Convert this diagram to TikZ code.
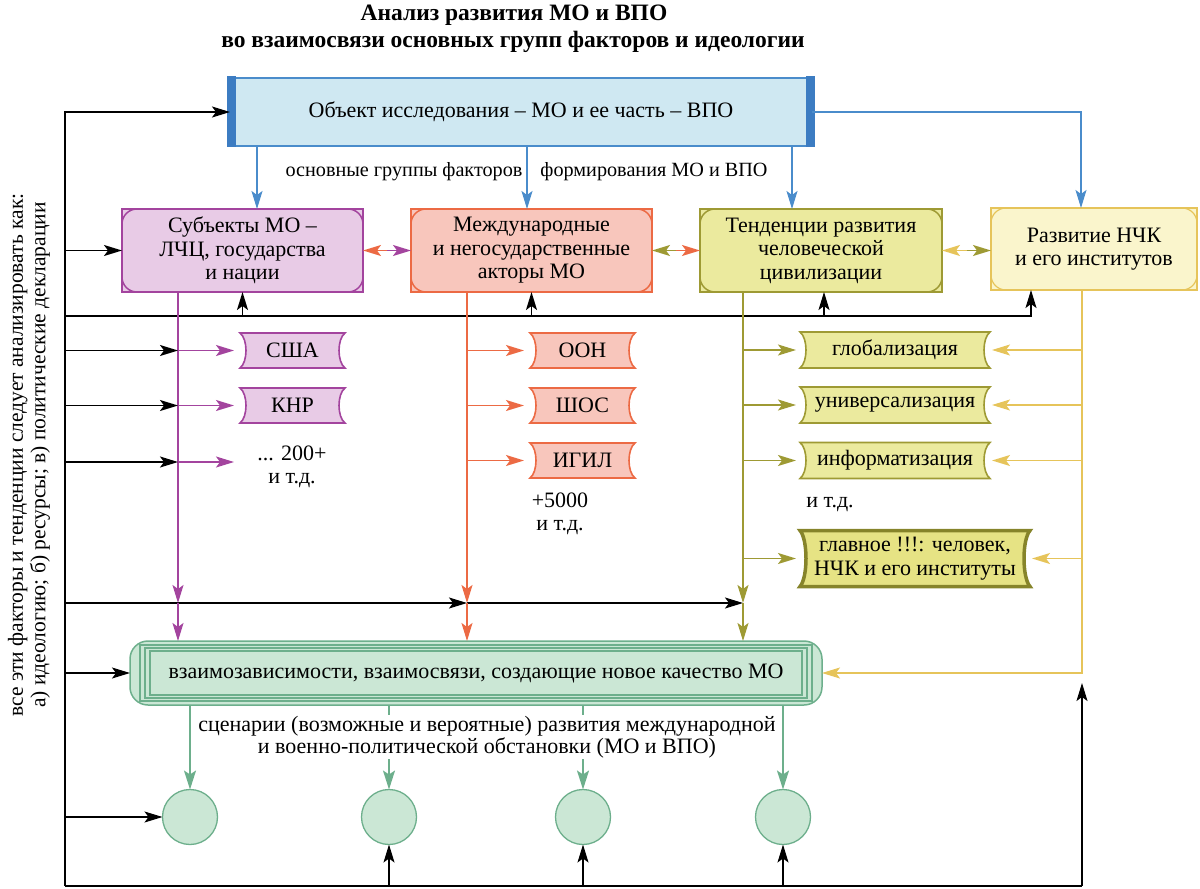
\documentclass[tikz,border=0pt]{standalone}
\usepackage{fontspec}
\setmainfont{Liberation Serif}
\usetikzlibrary{arrows.meta,calc}
\pgfdeclarelayer{background}
\pgfsetlayers{background,main}
\definecolor{blueF}{HTML}{CFE8F2}
\definecolor{blueD}{HTML}{4A8CCB}
\definecolor{blueBar}{HTML}{3C7CC2}
\definecolor{purF}{HTML}{E8CBE6}
\definecolor{purD}{HTML}{A3449E}
\definecolor{oraF}{HTML}{F8C6BC}
\definecolor{oraD}{HTML}{EC6A44}
\definecolor{oliF}{HTML}{EBEA9E}
\definecolor{oliD}{HTML}{9E9A34}
\definecolor{oliG}{HTML}{E6E384}
\definecolor{oliB}{HTML}{86842A}
\definecolor{golF}{HTML}{FAF5CC}
\definecolor{golD}{HTML}{E6C45A}
\definecolor{grnF}{HTML}{CBE7D5}
\definecolor{grnD}{HTML}{6DAF8C}
\newcommand\tf{\fontsize{22}{23.5}\selectfont}
\newcommand\mytkt[8]{% name, x, y, w, h, fill, draw, text
  \node[txt, minimum width=#4pt, minimum height=#5pt] (#1) at (#2,#3) {#8};
  \begin{pgfonlayer}{background}
  \filldraw[fill=#6, draw=#7, line width=1.6pt]
    (#1.north west) -- (#1.north east) .. controls +(-8,6) and +(-8,-6) .. (#1.south east)
    -- (#1.south west) .. controls +(8,-6) and +(8,6) .. (#1.north west) -- cycle;
  \end{pgfonlayer}}
\begin{document}
\begin{tikzpicture}[x=1pt,y=-1pt,
  arr/.style={-{Stealth[length=18pt,width=11pt,inset=4pt]}},
  con/.style={line width=1.5pt},
  txt/.style={font=\tf, align=center, inner sep=0pt, outer sep=0pt},
  cbox/.style={txt, minimum height=83pt, line width=1.5pt}]
\useasboundingbox (0,0) rectangle (1200,889);

% titles
\node[font=\fontsize{23.5}{25}\selectfont\bfseries] (ttl1) at (514,15) {Анализ развития МО и ВПО};
\node[font=\fontsize{23.5}{25}\selectfont\bfseries] (ttl2) at (513,42) {во взаимосвязи основных групп факторов и идеологии};

% top box
\node[txt, minimum width=582pt, minimum height=68pt, fill=blueF, draw=blueD, line width=2.5pt] (top) at (521,112) {Объект исследования – МО и ее часть – ВПО};
\fill[blueBar] ($(top.north west)+(-3,-2)$) rectangle ($(top.south west)+(6,1)$);
\fill[blueBar] ($(top.north east)+(-6,-2)$) rectangle ($(top.south east)+(3,1)$);

% main row boxes
\node[cbox, minimum width=241pt, fill=purF, draw=purD] (b1) at (242.5,250.5) {Субъекты МО –\\ЛЧЦ, государства\\и нации};
\node[cbox, minimum width=241pt, fill=oraF, draw=oraD] (b2) at (531.5,250.5) {Международные\\и негосударственные\\акторы МО};
\node[cbox, minimum width=242pt, fill=oliF, draw=oliD, line width=2.8pt] (b3) at (821,250.5) {Тенденции развития\\человеческой\\цивилизации};
\node[cbox, minimum width=206pt, minimum height=82pt, fill=golF, draw=golD, line width=2pt] (b4) at (1094,249) {Развитие НЧК\\и его институтов};
\draw[purD, line width=1.5pt, rounded corners=15pt] (b1.north west) rectangle (b1.south east);
\draw[oraD, line width=1.5pt, rounded corners=15pt] (b2.north west) rectangle (b2.south east);
\draw[oliD, line width=1.5pt, rounded corners=15pt] (b3.north west) rectangle (b3.south east);
\draw[golD, line width=1.2pt, rounded corners=15pt] (b4.north west) rectangle (b4.south east);

% labels
\node[txt, font=\fontsize{20.2}{22}\selectfont] (lab1) at (404,172) {основные группы факторов};
\node[txt, font=\fontsize{20.2}{22}\selectfont] (lab2) at (654,172) {формирования МО и ВПО};

% tickets
\mytkt{usa}{292.5}{350.5}{105}{35}{purF}{purD}{США}
\mytkt{knr}{292.5}{405.5}{105}{35}{purF}{purD}{КНР}
\node[txt] (etc1) at (292,467) {... 200+\\и т.д.};
\mytkt{oon}{582.5}{350.5}{105}{35}{oraF}{oraD}{ООН}
\mytkt{shos}{582.5}{405.5}{105}{35}{oraF}{oraD}{ШОС}
\mytkt{igil}{582.5}{460.5}{105}{35}{oraF}{oraD}{ИГИЛ}
\node[txt] (etc2) at (560,514) {+5000\\и т.д.};
\mytkt{glob}{895}{350}{190}{36}{oliF}{oliD}{глобализация}
\mytkt{univ}{895}{405}{190}{36}{oliF}{oliD}{универсализация}
\mytkt{inf}{895}{460.5}{190}{36}{oliF}{oliD}{информатизация}
\node[txt] (etc3) at (830,505) {и т.д.};
\node[txt, minimum width=230pt, minimum height=56pt] (glav) at (915,558.5) {главное !!!: человек,\\НЧК и его институты};
\begin{pgfonlayer}{background}
\filldraw[fill=oliG, draw=oliB, line width=3.5pt]
  (glav.north west) -- (glav.north east) .. controls +(-8,9) and +(-8,-9) .. (glav.south east)
  -- (glav.south west) .. controls +(8,-9) and +(8,9) .. (glav.north west) -- cycle;
\end{pgfonlayer}

% green box
\node[txt, minimum width=692pt, minimum height=64pt, fill=grnF, draw=grnD, line width=1.5pt, rounded corners=18pt] (grn) at (476,673) {взаимозависимости, взаимосвязи, создающие новое качество МО};
\draw[grnD, line width=1.2pt] ($(grn.north west)+(10,4)$) rectangle ($(grn.south east)+(-10,-4)$);
\draw[grnD, line width=1.2pt] ($(grn.north west)+(15,7)$) rectangle ($(grn.south east)+(-15,-7)$);
\draw[grnD, line width=1.2pt] ($(grn.north west)+(20,10)$) rectangle ($(grn.south east)+(-20,-10)$);

% circles
\foreach \n/\x in {c1/190,c2/389,c3/583,c4/783}
  \node[circle, minimum size=55pt, inner sep=0pt, outer sep=0pt, fill=grnF, draw=grnD, line width=1.3pt] (\n) at (\x,817) {};

% side text
\node[txt, rotate=90, font=\fontsize{21.5}{22.5}\selectfont] (side) at (29,455) {все эти факторы и тенденции следует анализировать как:\\а) идеологию; б) ресурсы; в) политические декларации};

% ---- connectors ----
\coordinate (LB) at (65,886);
\coordinate (RB) at (1082,886);
\draw[con] (LB) -- (RB);
\draw[con,arr] (LB) |- (top.west);

% blue
\coordinate (t1) at ($(top.south west)+(27,0)$);
\coordinate (t2) at ($(top.south)+(6,0)$);
\coordinate (t3) at ($(top.south east)+(-20,0)$);
\coordinate (t4) at ($(b4.north)+(-13,0)$);
\draw[con,arr,blueD] (t1) -- (t1 |- b1.north);
\draw[con,arr,blueD] (t2) -- (t2 |- b2.north);
\draw[con,arr,blueD] (t3) -- (t3 |- b3.north);
\draw[con,arr,blueD] (top.east) -| (t4);

% between boxes
\coordinate (m12) at ($(b1.east)!0.5!(b2.west)$);
\coordinate (m23) at ($(b2.east)!0.5!(b3.west)$);
\coordinate (m34) at ($(b3.east)!0.5!(b4.west |- b3.east)$);
\draw[con,arr,oraD] (m12) -- (b1.east);
\draw[con,arr,purD] (m12) -- (b2.west);
\draw[con,arr,oliD] (m23) -- (b2.east);
\draw[con,arr,oraD] (m23) -- (b3.west);
\draw[con,arr,golD] (m34) -- (b3.east);
\draw[con,arr,oliD] (m34) -- (b4.west |- m34);

% black row under boxes
\coordinate (bk) at (65,316);
\coordinate (b4s) at ($(b4.south)+(-63,0)$);
\draw[con,arr] (bk) -| (b4s);
\draw[con,arr] (bk -| b1.south) -- (b1.south);
\draw[con,arr] (bk -| b2.south) -- (b2.south);
\draw[con,arr] ($(bk -| b3.south)+(3,0)$) -- ($(b3.south)+(3,0)$);
\draw[con,arr] (LB |- b1.west) -- (b1.west);

% vertical coloured lines
\coordinate (p0) at ($(b1.south)+(-64.5,0)$);
\coordinate (q0) at ($(b2.south)+(-64.5,0)$);
\coordinate (o0) at ($(b3.south)+(-78,0)$);
\coordinate (g0) at ($(b4.south)+(-12,0)$);
\coordinate (bm) at (65,603);
\coordinate (pe3) at (240,462);

\draw[con,arr] (bm) -- (q0 |- bm);
\draw[con,arr] (q0 |- bm) -- (o0 |- bm);

\draw[con,arr,purD] (p0) -- (p0 |- bm);
\draw[con,arr,purD] (p0 |- bm) -- (p0 |- grn.north);
\draw[con,arr,oraD] (q0) -- (q0 |- bm);
\draw[con,arr,oraD] (q0 |- bm) -- (q0 |- grn.north);
\draw[con,arr,oliD] (o0) -- (o0 |- bm);
\draw[con,arr,oliD] (o0 |- bm) -- (o0 |- grn.north);

% purple side
\foreach \t in {usa,knr} {
  \draw[con,arr] (LB |- \t.west) -- (p0 |- \t.west);
  \draw[con,arr,purD,shorten >=6pt] (p0 |- \t.west) -- (\t.west);
}
\draw[con,arr] (LB |- pe3) -- (p0 |- pe3);
\draw[con,arr,purD,shorten >=6pt] (p0 |- pe3) -- (pe3);

% orange side
\foreach \t in {oon,shos,igil}
  \draw[con,arr,oraD,shorten >=6pt] (q0 |- \t.west) -- (\t.west);

% olive side
\foreach \t in {glob,univ,inf,glav}
  \draw[con,arr,oliD,shorten >=4pt] (o0 |- \t.west) -- (\t.west);

% golden side
\draw[con,arr,golD] (g0) |- (grn.east);
\foreach \t in {glob,univ,inf,glav}
  \draw[con,arr,golD,shorten >=2pt] (g0 |- \t.east) -- (\t.east);

\draw[con,arr] (RB) -- ($(RB |- grn.east)+(0,10)$);

% to green box and circles
\draw[con,arr] (LB |- grn.west) -- (grn.west);
\foreach \c in {c1,c2,c3,c4}
  \draw[line width=1.9pt,-{Stealth[length=19pt,width=12pt,inset=4pt]},grnD] (grn.south -| \c.north) -- (\c.north);
\draw[con,arr] (LB |- c1.west) -- (c1.west);
\foreach \c in {c2,c3,c4}
  \draw[con,arr] (LB -| \c.south) -- (\c.south);

% scenario text
\node[txt, fill=white, inner sep=1pt, font=\fontsize{22}{22}\selectfont] (scen) at (487,737) {сценарии (возможные и вероятные) развития международной\\и военно-политической обстановки (МО и ВПО)};
\end{tikzpicture}
\end{document}
